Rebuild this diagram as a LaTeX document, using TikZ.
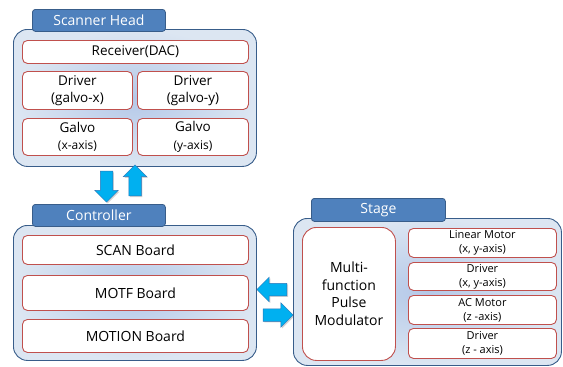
\documentclass[tikz,border=0pt]{standalone}
\usepackage{fontspec}
\setmainfont{Open Sans}
\usetikzlibrary{shapes.arrows,shadows}

\definecolor{tabblue}{HTML}{4F81BD}
\definecolor{tabline}{HTML}{385D8A}
\definecolor{panelout}{HTML}{DCE6F2}
\definecolor{panelin}{HTML}{B4C8E8}
\definecolor{cellline}{HTML}{C0504D}
\definecolor{arrowcyan}{HTML}{00B0F0}
\definecolor{arrowline}{HTML}{2E75B6}

\tikzset{
  panel/.style={draw=tabline, line width=0.9pt, rounded corners=14pt, inner color=panelin, outer color=panelout, anchor=north west, inner sep=0pt},
  tab/.style={draw=tabline, line width=0.8pt, fill=tabblue, rounded corners=3pt, text=white, font=\fontsize{14}{16}\selectfont, anchor=north west, inner sep=0pt},
  cell/.style={draw=cellline, line width=0.9pt, fill=white, rounded corners=5pt, align=center, anchor=north west, inner sep=0pt, font=\fontsize{13.5}{17.5}\selectfont},
  smallcell/.style={cell, font=\fontsize{11}{14}\selectfont},
  bigarrow/.style={single arrow, draw=arrowline, fill=arrowcyan, line width=0.5pt, inner xsep=0pt, inner ysep=6pt, minimum height=30pt, single arrow head extend=6pt, drop shadow={shadow xshift=1.2pt, shadow yshift=-1.2pt, opacity=0.35}},
  vertarrow/.style={bigarrow, inner xsep=6pt, inner ysep=0pt, minimum height=31pt, single arrow head extend=5.5pt}
}

\begin{document}
\begin{tikzpicture}[x=1pt,y=-1pt]
\useasboundingbox (0,0) rectangle (563,367);

% scanner head
\node[panel, minimum width=243pt, minimum height=137pt] (head) at (13,29) {};
\node[tab, minimum width=133pt, minimum height=22pt] (headtab) at (32,9) {Scanner Head};
\node[cell, minimum width=226pt, minimum height=23pt] (recv) at (22,40) {Receiver(DAC)};
\node[cell, minimum width=110pt, minimum height=38pt] (drvx) at (22,71) {Driver\\(galvo-x)};
\node[cell, minimum width=111pt, minimum height=38pt] (drvy) at (137,71) {Driver\\(galvo-y)};
\node[cell, minimum width=110pt, minimum height=37pt] (galx) at (22,118) {Galvo\\{\fontsize{12}{18}\selectfont(x-axis)}};
\node[cell, minimum width=111pt, minimum height=37pt] (galy) at (137,118) {Galvo\\{\fontsize{12}{18}\selectfont(y-axis)}};

% arrows head <-> controller
\node[vertarrow, shape border rotate=270] (down) at (106.5,183.5) {};
\node[vertarrow, shape border rotate=90] (up) at (135,183.5) {};

% controller
\node[panel, minimum width=243pt, minimum height=135pt] (ctrl) at (13,225) {};
\node[tab, minimum width=133pt, minimum height=22pt] (ctrltab) at (32,204) {Controller};
\node[cell, minimum width=226pt, minimum height=29pt, font=\fontsize{14}{16}\selectfont] (scan) at (22,235) {SCAN Board};
\node[cell, minimum width=226pt, minimum height=35pt, font=\fontsize{14}{16}\selectfont] (motf) at (22,275) {MOTF Board};
\node[cell, minimum width=226pt, minimum height=33pt, font=\fontsize{14}{16}\selectfont] (motion) at (22,319) {MOTION Board};

% arrows controller <-> stage
\node[bigarrow, shape border rotate=180] (left) at (275,289.5) {};
\node[bigarrow, shape border rotate=0] (right) at (275,315) {};

% stage
\node[panel, minimum width=268pt, minimum height=147pt] (stage) at (293,218) {};
\node[tab, minimum width=134pt, minimum height=23pt] (stagetab) at (311,198) {Stage};
\node[cell, minimum width=93pt, minimum height=133pt, rounded corners=14pt, font=\fontsize{14}{17.5}\selectfont] (pulse) at (302,227) {Multi-\\function\\Pulse\\Modulator};
\node[smallcell, minimum width=148pt, minimum height=29pt] (linear) at (408,228) {Linear Motor\\(x, y-axis)};
\node[smallcell, minimum width=148pt, minimum height=28pt] (drvxy) at (408,262) {Driver\\(x, y-axis)};
\node[smallcell, minimum width=148pt, minimum height=29pt] (acmotor) at (408,295) {AC Motor\\(z -axis)};
\node[smallcell, minimum width=148pt, minimum height=30pt] (drvz) at (408,328) {Driver\\(z - axis)};

\end{tikzpicture}
\end{document}
